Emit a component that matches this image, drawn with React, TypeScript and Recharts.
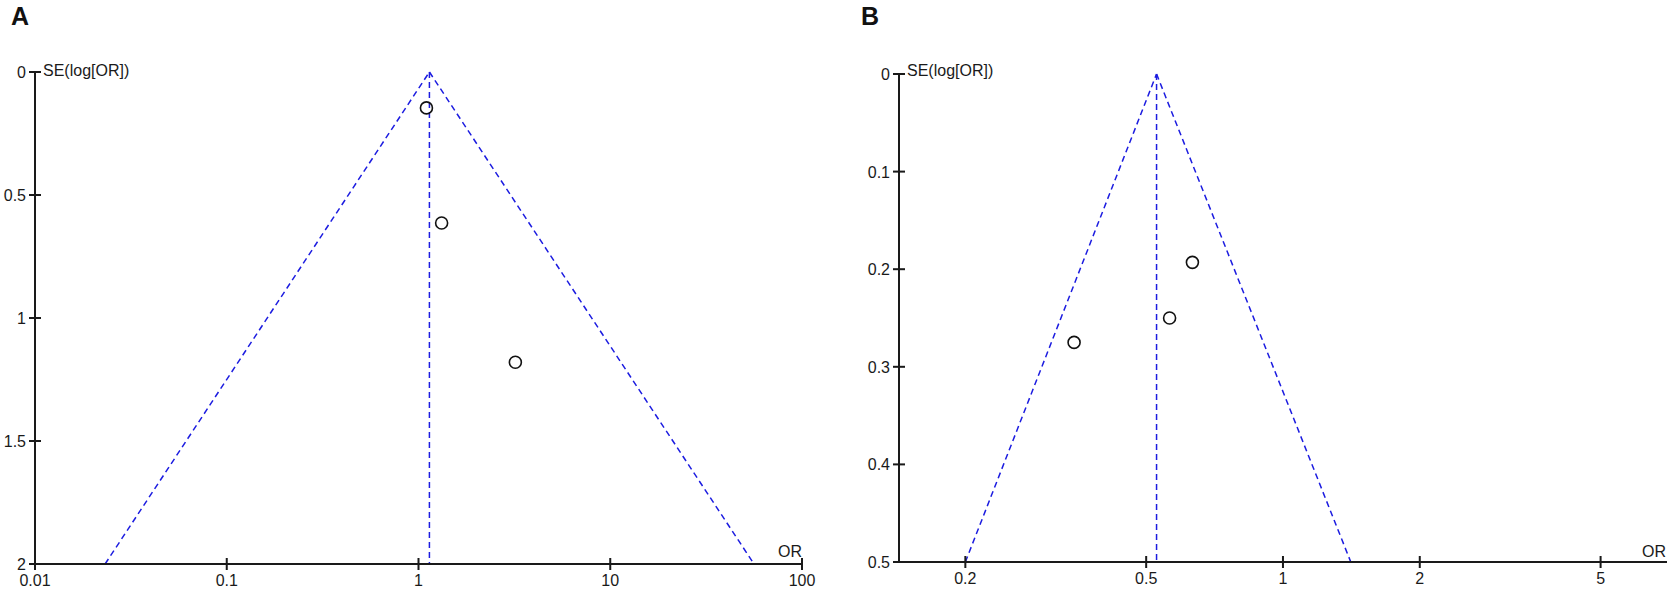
import React from "react";
import { ScatterChart, Scatter, XAxis, YAxis, ReferenceLine, ReferenceDot } from "recharts";

// Panel A data
const aOR = [1.1, 1.32, 3.2];
const aSE = [0.146, 0.614, 1.18];
const aXTicks = [0.01, 0.1, 1, 10, 100];
const aYTicks = [0, 0.5, 1, 1.5, 2];
const aXDomain = [0.01, 100];
const aPooled = 1.14;
const aFunnelLow = 0.0232;
const aFunnelHigh = 56.2;
const aSEMax = 2;

// Panel B data
const bOR = [0.632, 0.563, 0.347];
const bSE = [0.193, 0.25, 0.275];
const bXTicks = [0.2, 0.5, 1, 2, 5];
const bYTicks = [0, 0.1, 0.2, 0.3, 0.4, 0.5];
const bXDomain = [0.1429, 7];
const bPooled = 0.527;
const bFunnelLow = 0.2;
const bFunnelHigh = 1.41;
const bSEMax = 0.5;

const AXIS = "#1a1a1a";
const BLUE = "#1c1ce0";
const FONT = "'Liberation Sans', Arial, sans-serif";
const FS = 16;

const VMark = (props: any) => (
  <g>
    <rect x={props.cx - 1} y={props.cy - 6} width={2} height={12} fill={AXIS} />
    <text x={props.cx} y={props.cy + 22} textAnchor="middle" fontSize={FS} fontFamily={FONT} fill="#1a1a1a">
      {props.label}
    </text>
  </g>
);

const HMark = (props: any) => (
  <g>
    <rect x={props.cx - 6} y={props.cy - 1} width={12} height={2} fill={AXIS} />
    <text x={props.cx - 9} y={props.cy + 6} textAnchor="end" fontSize={FS} fontFamily={FONT} fill="#1a1a1a">
      {props.label}
    </text>
  </g>
);

const Circle = (props: any) => (
  <circle cx={props.cx} cy={props.cy} r={6} fill="none" stroke="#111" strokeWidth={1.6} />
);

function Panel(p: {
  or: number[];
  se: number[];
  xTicks: number[];
  yTicks: number[];
  xDomain: number[];
  pooled: number;
  low: number;
  high: number;
  seMax: number;
  width: number;
  yWidth: number;
  xHeight: number;
  margin: any;
}) {
  const data = p.or.map((v, i) => ({ or: v, se: p.se[i] }));
  const dash = { stroke: BLUE, strokeWidth: 1.5, strokeDasharray: "6 4", ifOverflow: "visible" as const };
  return (
    <ScatterChart width={p.width} height={589} margin={p.margin}>
      <XAxis
        type="number"
        dataKey="or"
        scale="log"
        domain={p.xDomain as [number, number]}
        allowDataOverflow
        ticks={p.xTicks}
        tick={false}
        tickLine={false}
        axisLine={{ stroke: AXIS, strokeWidth: 2 }}
        height={p.xHeight}
      />
      <YAxis
        type="number"
        dataKey="se"
        reversed
        domain={[0, p.seMax]}
        allowDataOverflow
        ticks={p.yTicks}
        tick={false}
        tickLine={false}
        axisLine={{ stroke: AXIS, strokeWidth: 2 }}
        width={p.yWidth}
      />
      <ReferenceLine segment={[{ x: p.low, y: p.seMax }, { x: p.pooled, y: 0 }]} {...dash} />
      <ReferenceLine segment={[{ x: p.pooled, y: 0 }, { x: p.high, y: p.seMax }]} {...dash} />
      <ReferenceLine segment={[{ x: p.pooled, y: 0 }, { x: p.pooled, y: p.seMax }]} {...dash} />
      {p.xTicks.map((v) => (
        <ReferenceDot
          key={"x" + v}
          x={v}
          y={p.seMax}
          r={0}
          ifOverflow="visible"
          shape={(sp: any) => <VMark cx={sp.cx} cy={sp.cy} label={String(v)} />}
        />
      ))}
      {p.yTicks.map((v) => (
        <ReferenceDot
          key={"y" + v}
          x={p.xDomain[0]}
          y={v}
          r={0}
          ifOverflow="visible"
          shape={(sp: any) => <HMark cx={sp.cx} cy={sp.cy} label={String(v)} />}
        />
      ))}
      <Scatter data={data} shape={<Circle />} isAnimationActive={false} />
    </ScatterChart>
  );
}

export default function App() {
  return (
    <div style={{ position: "absolute", left: 0, top: 0, width: 1671, height: 589, background: "#fff", overflow: "hidden" }}>
      <div style={{ position: "absolute", left: 0, top: 0 }}>
        <Panel
          or={aOR}
          se={aSE}
          xTicks={aXTicks}
          yTicks={aYTicks}
          xDomain={aXDomain}
          pooled={aPooled}
          low={aFunnelLow}
          high={aFunnelHigh}
          seMax={aSEMax}
          width={830}
          yWidth={35}
          xHeight={25}
          margin={{ top: 72, right: 28, bottom: 0, left: 0 }}
        />
      </div>
      <div style={{ position: "absolute", left: 840, top: 0 }}>
        <Panel
          or={bOR}
          se={bSE}
          xTicks={bXTicks}
          yTicks={bYTicks}
          xDomain={bXDomain}
          pooled={bPooled}
          low={bFunnelLow}
          high={bFunnelHigh}
          seMax={bSEMax}
          width={831}
          yWidth={59}
          xHeight={27}
          margin={{ top: 74, right: 4, bottom: 0, left: 0 }}
        />
      </div>
      <svg width={1671} height={589} style={{ position: "absolute", left: 0, top: 0, pointerEvents: "none" }}>
        <text x={11} y={25} fontSize={25} fontWeight="bold" fontFamily={FONT} fill="#111">A</text>
        <text x={861} y={25} fontSize={25} fontWeight="bold" fontFamily={FONT} fill="#111">B</text>
        <text x={43} y={76} fontSize={FS} fontFamily={FONT} fill="#1a1a1a">SE(log[OR])</text>
        <text x={907} y={76} fontSize={FS} fontFamily={FONT} fill="#1a1a1a">SE(log[OR])</text>
        <text x={778} y={557} fontSize={FS} fontFamily={FONT} fill="#1a1a1a">OR</text>
        <text x={1642} y={557} fontSize={FS} fontFamily={FONT} fill="#1a1a1a">OR</text>
      </svg>
    </div>
  );
}
